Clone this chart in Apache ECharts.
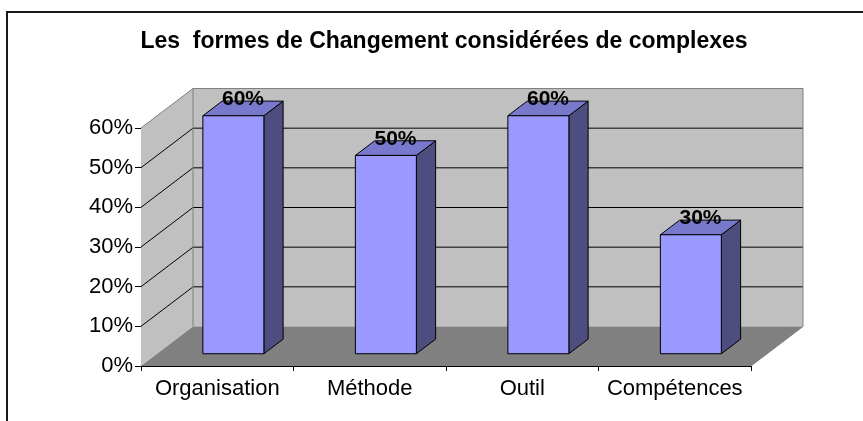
<!DOCTYPE html>
<html>
<head>
<meta charset="utf-8">
<script src="https://cdn.jsdelivr.net/npm/echarts@6/dist/echarts.min.js"></script>
<style>
  html, body { margin: 0; padding: 0; background: #ffffff; }
  #chart { width: 863px; height: 421px; }
</style>
</head>
<body>
<div id="chart"></div>
<script>
// Chart data
const categories = ['Organisation', 'Méthode', 'Outil', 'Compétences'];
const values = [0.6, 0.5, 0.6, 0.3];
const yTicks = [0, 0.1, 0.2, 0.3, 0.4, 0.5, 0.6];
const titleText = 'Les  formes de Changement considérées de complexes';

// 3D box: offset of the back wall from the front plane (px)
const DEPTH_X = 52;
const DEPTH_Y = -39.5;
// slice of the depth occupied by the bars, and bar width as part of a band
const BAR_Z0 = 0.31;
const BAR_Z1 = 0.68;
const BAR_FRAC = 0.4;

const FONT = "'Liberation Sans', Arial, sans-serif";
const pct = v => Math.round(v * 100) + '%';

const chart = echarts.init(document.getElementById('chart'), null, { renderer: 'canvas' });

// Walls, floor and grid lines of the 3D box
function renderWalls(params, api) {
  const cs = params.coordSys;
  const x0 = cs.x, x1 = cs.x + cs.width;
  const yb = cs.y + cs.height, yt = cs.y;
  const dx = DEPTH_X, dy = DEPTH_Y;
  const children = [];
  // left side wall
  children.push({
    type: 'polygon',
    shape: { points: [[x0, yb], [x0, yt], [x0 + dx, yt + dy], [x0 + dx, yb + dy]] },
    style: { fill: '#c0c0c0', stroke: null }
  });
  // back wall
  children.push({
    type: 'polygon',
    shape: { points: [[x0 + dx, yt + dy], [x1 + dx, yt + dy], [x1 + dx, yb + dy], [x0 + dx, yb + dy]] },
    style: { fill: '#c0c0c0', stroke: null }
  });
  // floor
  children.push({
    type: 'polygon',
    shape: { points: [[x0, yb], [x1, yb], [x1 + dx, yb + dy], [x0 + dx, yb + dy]] },
    style: { fill: '#808080', stroke: null }
  });
  // horizontal grid lines on side and back walls
  yTicks.forEach(v => {
    if (v === 0) return;
    const y = api.coord([0, v])[1];
    const top = v === yTicks[yTicks.length - 1];
    children.push({
      type: 'polyline',
      shape: { points: [[x0, y], [x0 + dx, y + dy], [x1 + dx, y + dy]] },
      style: { stroke: top ? '#808080' : '#000000', lineWidth: 1, fill: null }
    });
  });
  // wall edges
  children.push({
    type: 'polyline',
    shape: { points: [[x0 + dx, yb + dy], [x0 + dx, yt + dy]] },
    style: { stroke: '#808080', lineWidth: 1, fill: null }
  });
  children.push({
    type: 'polyline',
    shape: { points: [[x1 + dx, yt + dy], [x1 + dx, yb + dy], [x1, yb]] },
    style: { stroke: '#808080', lineWidth: 1, fill: null }
  });
  return { type: 'group', children: children };
}

// 3D column: front, top and right faces plus its value label
function renderBar(params, api) {
  const idx = api.value(0);
  const val = api.value(1);
  const c0 = api.coord([idx, 0]);
  const c1 = api.coord([idx, val]);
  const band = api.size([1, 0])[0];
  const w = band * BAR_FRAC;
  const ox = BAR_Z0 * DEPTH_X, oy = BAR_Z0 * DEPTH_Y;
  const ddx = (BAR_Z1 - BAR_Z0) * DEPTH_X, ddy = (BAR_Z1 - BAR_Z0) * DEPTH_Y;
  const l = c0[0] - w / 2 + ox, r = l + w;
  const b = c0[1] + oy, t = c1[1] + oy;
  const edge = { stroke: '#000000', lineWidth: 1, lineJoin: 'round' };
  return {
    type: 'group',
    children: [
      {
        type: 'polygon',
        shape: { points: [[r, b], [r, t], [r + ddx, t + ddy], [r + ddx, b + ddy]] },
        style: Object.assign({ fill: '#4d4d80' }, edge)
      },
      {
        type: 'polygon',
        shape: { points: [[l, t], [r, t], [r + ddx, t + ddy], [l + ddx, t + ddy]] },
        style: Object.assign({ fill: '#7878cc' }, edge)
      },
      {
        type: 'rect',
        shape: { x: l, y: t, width: w, height: b - t },
        style: Object.assign({ fill: '#9999ff' }, edge)
      },
      {
        type: 'text',
        x: l + w / 2 + ddx / 2,
        y: t + ddy - 2,
        style: {
          text: pct(val),
          fill: '#000000',
          font: 'bold 21px ' + FONT,
          align: 'center',
          verticalAlign: 'middle'
        }
      }
    ]
  };
}

chart.setOption({
  animation: false,
  backgroundColor: '#ffffff',
  title: {
    text: titleText,
    left: 444,
    top: 30,
    padding: 0,
    textAlign: 'center',
    textStyle: { fontFamily: FONT, fontSize: 23, fontWeight: 'bold', color: '#000000' }
  },
  grid: { left: 141, right: 112, top: 128, bottom: 55 },
  xAxis: {
    type: 'category',
    data: categories,
    boundaryGap: true,
    axisLine: { lineStyle: { color: '#000000', width: 1 } },
    axisTick: { show: true, length: 5, lineStyle: { color: '#000000' } },
    axisLabel: { color: '#000000', fontFamily: FONT, fontSize: 22, margin: 12, interval: 0 },
    splitLine: { show: false }
  },
  yAxis: {
    type: 'value',
    min: 0,
    max: 0.6,
    interval: 0.1,
    axisLine: { show: true, lineStyle: { color: '#000000', width: 1 } },
    axisTick: { show: true, length: 6, lineStyle: { color: '#000000' } },
    axisLabel: { color: '#000000', fontFamily: FONT, fontSize: 22, margin: 8, formatter: pct },
    splitLine: { show: false }
  },
  series: [
    {
      name: 'box',
      type: 'custom',
      z: 1,
      silent: true,
      renderItem: renderWalls,
      data: [[0, 0]]
    },
    {
      name: 'valeurs',
      type: 'custom',
      z: 3,
      renderItem: renderBar,
      data: values.map((v, i) => [i, v])
    }
  ],
  graphic: [
    {
      type: 'polyline',
      shape: { points: [[7, 421], [7, 12], [863, 12]] },
      style: { stroke: '#1a1a1a', lineWidth: 2, fill: null },
      z: 10
    }
  ]
});
</script>
</body>
</html>
